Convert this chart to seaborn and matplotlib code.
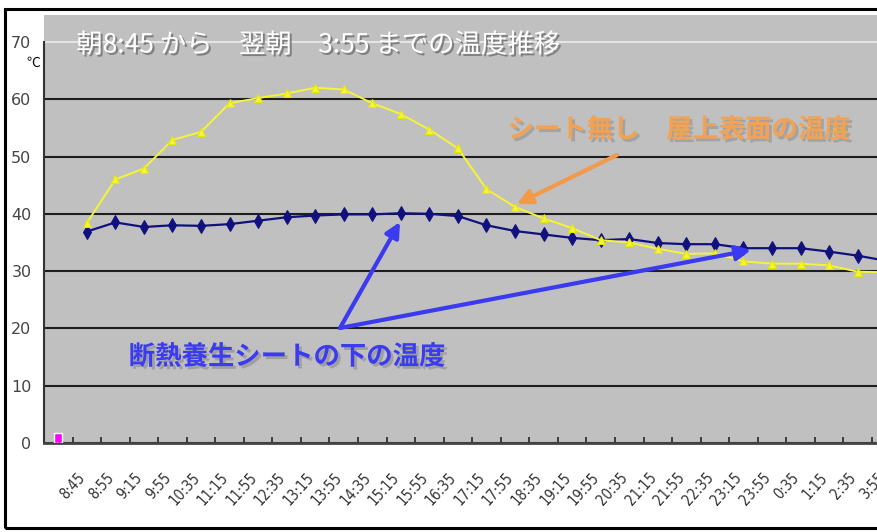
import matplotlib
matplotlib.use("Agg")
import numpy as np
import matplotlib.pyplot as plt
import seaborn as sns
from matplotlib import patheffects as pe, font_manager as fm
from matplotlib.patches import Rectangle
from matplotlib.transforms import ScaledTranslation

# ---------------- data ----------------
time_labels = ["", "8:45", "8:55", "9:15", "9:55", "10:35", "11:15", "11:55", "12:35",
               "13:15", "13:55", "14:35", "15:15", "15:55", "16:35", "17:15", "17:55",
               "18:35", "19:15", "19:55", "20:35", "21:15", "21:55", "22:35", "23:15",
               "23:55", "0:35", "1:15", "2:35", "3:55"]
surface_temp = [38.4, 46.0, 47.9, 52.9, 54.3, 59.3, 60.2, 61.0, 62.0, 61.7, 59.3, 57.4,
                54.7, 51.4, 44.3, 41.2, 39.2, 37.5, 35.4, 35.0, 33.9, 33.0, 33.1, 31.7,
                31.3, 31.3, 31.0, 29.9, 29.8]
under_sheet_temp = [36.9, 38.5, 37.7, 38.0, 37.9, 38.2, 38.8, 39.4, 39.7, 39.9, 39.9, 40.1,
                    40.0, 39.6, 38.0, 37.0, 36.4, 35.8, 35.4, 35.6, 34.9, 34.7, 34.7, 34.0,
                    34.0, 34.0, 33.4, 32.7, 31.8]
pink_bar = [1.8]
y_ticks = [0, 10, 20, 30, 40, 50, 60, 70]

title_text = "朝8:45 から\u3000翌朝\u30003:55 までの温度推移"
orange_text = "シート無し\u3000屋上表面の温度"
blue_text = "断熱養生シートの下の温度"

# ---------------- style ----------------
sns.set_theme(style="white")
available = {f.name for f in fm.fontManager.ttflist}
narrow = [f for f in ["Liberation Sans Narrow", "DejaVu Sans"] if f in available]
cjk = ["Noto Sans CJK JP", "DejaVu Sans"]
plt.rcParams["font.family"] = narrow

W, H = 878, 532
fig = plt.figure(figsize=(W / 100, H / 100), dpi=100)
fig.patch.set_facecolor("white")

ax_left, ax_bottom, ax_top = 44, 443, 15
ax = fig.add_axes([ax_left / W, (H - ax_bottom) / H, 885 / W, (ax_bottom - ax_top) / H])
ax.set_facecolor("#c0c0c0")

pos = np.arange(len(time_labels))
ax.bar(pos[:1], pink_bar, width=0.27, color="#ff00ff", zorder=3)

sns.lineplot(x=pos[1:], y=under_sheet_temp, ax=ax, color="#10107e", linewidth=1.6,
             marker="d", markersize=7, markeredgecolor="#10107e", legend=False, zorder=4)
sns.lineplot(x=pos[1:], y=surface_temp, ax=ax, color="#f4f43a", linewidth=1.4,
             marker="^", markersize=6, markeredgecolor="#e6e600", legend=False, zorder=5)

ax.set_xlim(-0.5, len(time_labels) + 0.5)
ax.set_ylim(0, 74.7)
ax.set_yticks(y_ticks)
ax.set_yticklabels([str(v) for v in y_ticks])
ax.yaxis.grid(True, color="#1e1e1e", linewidth=1.5)
ax.get_ygridlines()[-1].set_color("#e4e4e4")
ax.set_axisbelow(True)

ax.set_xticks(pos)
ax.set_xticklabels(time_labels, rotation=48, ha="right", va="center",
                   rotation_mode="anchor", fontsize=10.5, color="#333333",
                   fontstretch="condensed")
ax.set_xticks(pos[:-1] + 0.5, minor=True)
ax.tick_params(axis="x", which="major", length=0, pad=23)
ax.tick_params(axis="x", which="minor", direction="in", length=4, width=1.3,
               color="#333333", bottom=True)
ax.tick_params(axis="y", length=0, pad=9, labelsize=11.5, labelcolor="#444444")
for lab in ax.get_xticklabels():
    lab.set_transform(lab.get_transform() + ScaledTranslation(-4 / 100, 0, fig.dpi_scale_trans))
ax.set_xlabel("")
ax.set_ylabel("")

for s in ["top", "right"]:
    ax.spines[s].set_visible(False)
ax.spines["left"].set_bounds(0, 70)
ax.spines["left"].set_color("#333333")
ax.spines["left"].set_linewidth(1.5)
ax.spines["bottom"].set_color("#444444")
ax.spines["bottom"].set_linewidth(2)

# outer frame
fig.patches.append(Rectangle((5 / W, 1 - 528 / H), 1.0, (528 - 9) / H,
                             transform=fig.transFigure, fill=False,
                             edgecolor="black", linewidth=2.2, zorder=10))

# ℃ unit
fig.text(33 / W, 1 - 63 / H, "℃", family=cjk, fontsize=10, color="#111111",
         ha="center", va="center")

# title (white with shadow)
fig.text(318 / W, 1 - 45 / H, title_text, family=cjk, fontsize=19, color="white",
         ha="center", va="center",
         path_effects=[pe.withSimplePatchShadow(offset=(1.5, -1.5), shadow_rgbFace="#6e6e6e", alpha=0.8)])

# annotations
fig.text(679 / W, 1 - 130 / H, orange_text, family=cjk, fontsize=19, fontweight="bold",
         color="#f3a253", ha="center", va="center",
         path_effects=[pe.withSimplePatchShadow(offset=(2, -2), shadow_rgbFace="#909090", alpha=0.6)])
fig.text(287 / W, 1 - 357 / H, blue_text, family=cjk, fontsize=19, fontweight="bold",
         color="#3b3bf2", ha="center", va="center",
         path_effects=[pe.withSimplePatchShadow(offset=(2, -2), shadow_rgbFace="#8a8a8a", alpha=0.6)])

def arrow(start, tip, color):
    ax.annotate("", xy=(tip[0], H - tip[1]), xytext=(start[0], H - start[1]),
                xycoords="figure pixels", textcoords="figure pixels",
                arrowprops=dict(arrowstyle="-|>", color=color, lw=3,
                                mutation_scale=22, shrinkA=0, shrinkB=0), zorder=6)

arrow((617, 155), (517, 204), "#f29a4a")
arrow((340, 328), (400, 222), "#3a3af0")
arrow((340, 328), (751, 250), "#3a3af0")

fig.savefig("out.png", dpi=100)
